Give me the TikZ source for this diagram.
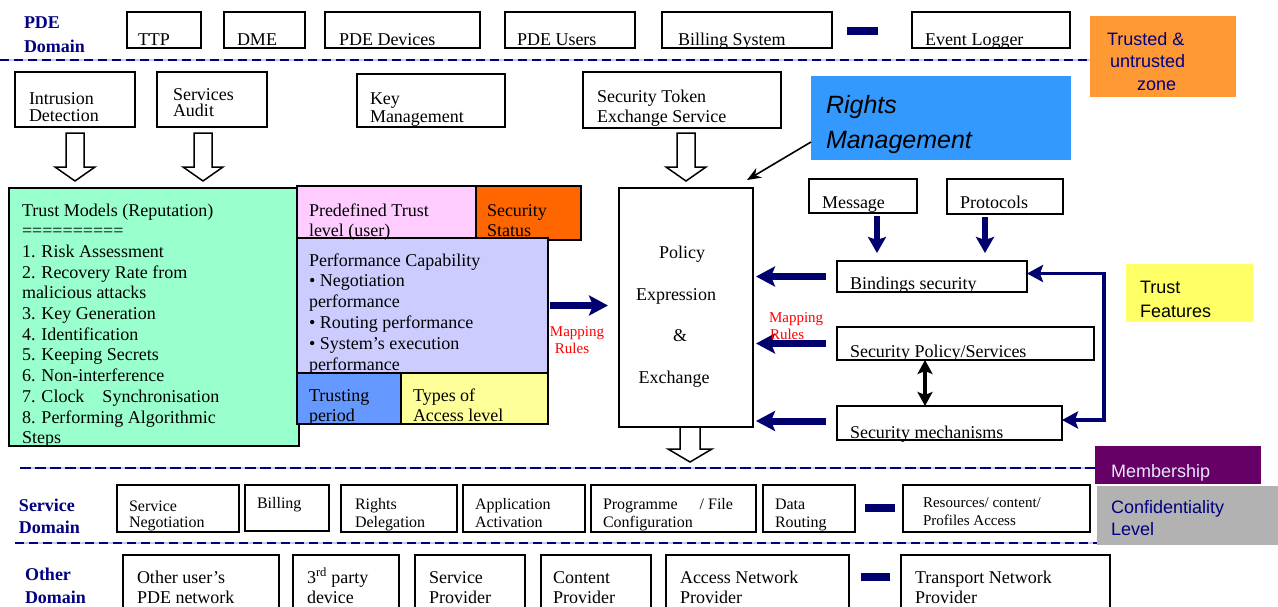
\documentclass[tikz,border=0pt]{standalone}
\usepackage{fontspec}
\setmainfont{Liberation Serif}
\newfontfamily\arialf{Liberation Sans}
\usetikzlibrary{arrows.meta,calc}
\definecolor{navy}{RGB}{0,0,128}
\definecolor{darknavy}{RGB}{0,0,110}
\definecolor{dashlav}{RGB}{200,200,235}
\definecolor{mint}{RGB}{153,255,204}
\definecolor{pinkb}{RGB}{255,204,255}
\definecolor{orangeS}{RGB}{255,102,0}
\definecolor{lavb}{RGB}{204,204,255}
\definecolor{blueT}{RGB}{102,153,255}
\definecolor{yelT}{RGB}{255,255,153}
\definecolor{zoneor}{RGB}{255,153,51}
\definecolor{rightsblue}{RGB}{51,153,255}
\definecolor{tfyel}{RGB}{255,255,102}
\definecolor{purpleM}{RGB}{102,0,102}
\definecolor{grayC}{RGB}{178,178,178}
\definecolor{membtxt}{RGB}{232,232,250}
\definecolor{mapred}{RGB}{255,0,0}
\newcommand\bx[6]{\node[boxst, fill=#6, minimum width={#4-#2}, minimum height={#5-#3}, anchor=north west] (#1) at (#2,#3) {};}
\newcommand\cbx[6]{\node[fill=#6, inner sep=0pt, outer sep=0pt, minimum width={#4-#2}, minimum height={#5-#3}, anchor=north west] (#1) at (#2,#3) {};}
\newcommand\vt[2]{\vtop{\baselineskip=#1pt\lineskiplimit=-100pt\lineskip=0pt #2}}
\newcommand\openarrow[5]{% coordinate name, shaft half, head half, shaft len, head len
  \draw[line width=1.5pt, fill=white, line join=miter]
    ([xshift=-#2pt]#1) -- ++(0,#4) -- ++(#2-#3,0) -- ++(#3,#5) -- ++(#3,-#5) -- ++(#2-#3,0) -- ++(0,-#4) -- cycle;}
\begin{document}
\begin{tikzpicture}[x=1pt,y=-1pt,
  boxst/.style={draw=black, line width=1.6pt, inner sep=0pt, outer sep=0pt},
  txt/.style={anchor=base west, inner sep=0pt, outer sep=0pt},
  t18/.style={txt, font=\fontsize{18}{20}\selectfont},
  t16/.style={txt, font=\fontsize{16}{18}\selectfont},
  t15/.style={txt, font=\fontsize{15}{17}\selectfont},
  dom/.style={txt, text=navy, font=\fontsize{18}{20}\selectfont\bfseries},
  ar18/.style={txt, font=\arialf\fontsize{18}{20}\selectfont},
  maprule/.style={txt, text=mapred, font=\fontsize{15}{17}\selectfont},
  navyarr/.style={draw=darknavy, line width=7pt, -{Stealth[length=19pt, width=20pt, inset=4pt]}},
  downarr/.style={draw=darknavy, line width=6pt, -{Stealth[length=16pt, width=18pt, inset=3pt]}},
  looparr/.style={draw=darknavy, line width=3.5pt, {Stealth[length=16pt, width=17pt, inset=3pt]}-{Stealth[length=16pt, width=17pt, inset=3pt]}},
  blackdbl/.style={draw=black, line width=3.5pt, {Stealth[length=14pt, width=15pt, inset=3pt]}-{Stealth[length=14pt, width=15pt, inset=3pt]}},
  thinarr/.style={draw=black, line width=1.6pt, -{Stealth[length=14pt, width=11pt]}},
  domline/.style={draw=navy, line width=1.6pt, dash pattern=on 9pt off 5pt},
]
\useasboundingbox (0,0) rectangle (1278,606);

% ---------- dashed domain separators ----------
\draw[dashlav, line width=1.6pt] (0,60) -- (1090,60);
\draw[domline] (0,60) -- (1090,60);
\draw[dashlav, line width=2.6pt] (20,468) -- (1095,468);
\draw[domline, line width=2.6pt, dash pattern=on 11pt off 4pt] (20,468) -- (1095,468);
\draw[dashlav, line width=1.6pt] (15,543) -- (1097,543);
\draw[domline] (15,543) -- (1097,543);

% ---------- PDE domain ----------
\node[dom] (lpde) at (24,28) {PDE};
\node[dom] (lpde2) at (24,52) {Domain};
\bx{ttp}{127}{12}{201}{48}{white}
\bx{dme}{224}{12}{305}{48}{white}
\bx{pdedev}{325}{12}{480}{48}{white}
\bx{pdeusr}{505}{12}{635}{48}{white}
\bx{bill}{662}{12}{832}{48}{white}
\bx{evlog}{912}{12}{1070}{48}{white}
\node[t18] (tttp) at (138,45) {TTP};
\node[t18] (tdme) at (237,45) {DME};
\node[t18] (tpdedev) at (339,45) {PDE Devices};
\node[t18] (tpdeusr) at (517,45) {PDE Users};
\node[t18] (tbill) at (678,45) {Billing System};
\node[t18] (tevlog) at (925,45) {Event Logger};
\fill[darknavy] (847,27) rectangle (878,35);

\cbx{zone}{1090}{16}{1236}{97}{zoneor}
\node[ar18, text=navy] (tzone1) at (1107,45) {Trusted \&};
\node[ar18, text=navy] (tzone2) at (1110,67) {untrusted};
\node[ar18, text=navy] (tzone3) at (1137,90) {zone};

% ---------- second row ----------
\bx{intr}{15}{72}{135}{127}{white}
\bx{audit}{157}{72}{267}{127}{white}
\bx{keym}{357}{74}{505}{127}{white}
\bx{token}{583}{72}{781}{128}{white}
\node[t18] (tintr) at (29,104) {\vt{17}{\hbox{Intrusion}\hbox{Detection}}};
\node[t18] (taudit) at (173,100) {\vt{16}{\hbox{Services}\hbox{Audit}}};
\node[t18] (tkeym) at (370,104) {\vt{18}{\hbox{Key}\hbox{Management}}};
\node[t18] (ttoken) at (597,102) {\vt{20}{\hbox{Security Token}\hbox{Exchange Service}}};

\cbx{rights}{811}{76}{1071}{160}{rightsblue}
\node[txt, font=\arialf\itshape\fontsize{25}{28}\selectfont] (trights) at (826,113) {\vt{35}{\hbox{Rights}\hbox{Management}}};

% ---------- middle: trust attributes ----------
\bx{trust}{9}{188}{299}{446}{mint}
\bx{pre}{297}{186}{476}{239}{pinkb}
\bx{sec}{476}{186}{581}{240}{orangeS}
\bx{perf}{297}{238}{548}{373}{lavb}
\bx{tper}{297}{373}{401}{424}{blueT}
\bx{types}{401}{373}{548}{424}{yelT}

\node[t18] (ttrust) at (22,216) {\vt{20.7}{%
  \hbox{Trust Models (Reputation)}
  \hbox{==========}
  \hbox{1. Risk Assessment}
  \hbox{2. Recovery Rate from}
  \hbox{malicious attacks}
  \hbox{3. Key Generation}
  \hbox{4. Identification}
  \hbox{5. Keeping Secrets}
  \hbox{6. Non-interference}
  \hbox{7. Clock\hspace{18pt}Synchronisation}
  \hbox{8. Performing Algorithmic}
  \hbox{Steps}}};
\node[t18] (tpre) at (309,216) {\vt{20}{\hbox{Predefined Trust}\hbox{level (user)}}};
\node[t18] (tsec) at (487,216) {\vt{20}{\hbox{Security}\hbox{Status}}};
\node[t18] (tperf) at (309,266) {\vt{20.8}{%
  \hbox{Performance Capability}
  \hbox{• Negotiation}
  \hbox{performance}
  \hbox{• Routing performance}
  \hbox{• System’s execution}
  \hbox{performance}}};
\node[t18] (ttper) at (309,401) {\vt{20}{\hbox{Trusting}\hbox{period}}};
\node[t18] (ttypes) at (413,401) {\vt{20}{\hbox{Types of}\hbox{Access level}}};

% ---------- policy ----------
\bx{policy}{619}{188}{753}{427}{white}
\node[txt, anchor=base, font=\fontsize{18}{20}\selectfont] (tpol1) at (682,258) {Policy};
\node[txt, anchor=base, font=\fontsize{18}{20}\selectfont] (tpol2) at (676,300) {Expression};
\node[txt, anchor=base, font=\fontsize{18}{20}\selectfont] (tpol3) at (680,341) {\&};
\node[txt, anchor=base, font=\fontsize{18}{20}\selectfont] (tpol4) at (674,383) {Exchange};

% ---------- right side ----------
\bx{msg}{809}{179}{917}{213}{white}
\bx{prot}{947}{179}{1063}{214}{white}
\bx{bind}{837}{261}{1027}{292}{white}
\bx{secpol}{837}{327}{1094}{360}{white}
\bx{mech}{837}{406}{1062}{440}{white}
\node[t18] (tmsg) at (822,208) {Message};
\node[t18] (tprot) at (960,208) {Protocols};
\node[t18] (tbind) at (850,289) {Bindings security};
\node[t18] (tsecpol) at (850,357) {Security Policy/Services};
\node[t18] (tmech) at (850,438) {Security mechanisms};

\cbx{tf}{1126}{264}{1253}{322}{tfyel}
\node[ar18] (ttf) at (1140,293) {\vt{24}{\hbox{Trust}\hbox{Features}}};

% ---------- open block arrows ----------
\coordinate (oa1) at ($(intr.south)+(0,6)$);
\coordinate (oa2) at ($(audit.south)+(-9,6)$);
\coordinate (oa3) at ($(token.south)+(4,5)$);
\coordinate (oa4) at ($(policy.south)+(4,0)$);
\openarrow{oa1}{9}{20}{34}{14}
\openarrow{oa2}{9}{20}{34}{14}
\openarrow{oa3}{9}{20}{34}{14}
\openarrow{oa4}{10}{22}{22}{13}

% ---------- connectors ----------
\draw[thinarr] ($(rights.west)+(0,24)$) -- ($(policy.north east)+(-6,-8)$);

\coordinate (mapS) at ($(perf.east)+(2,0)$);
\coordinate (mapE) at ($(policy.west |- perf.east)+(-11,0)$);
\draw[navyarr] (mapS) -- (mapE);
\draw[navyarr] ($(bind.west)+(-11,0)$) -- ($(policy.east |- bind.west)+(3,0)$);
\draw[navyarr] ($(secpol.west)+(-11,0)$) -- ($(policy.east |- secpol.west)+(3,0)$);
\draw[navyarr] ($(mech.west)+(-11,-2)$) -- ($(policy.east |- mech.west)+(3,-2)$);

\draw[downarr] ($(msg.south)+(14,3)$) -- ($(bind.north west)+(40,-8)$);
\draw[downarr] ($(prot.south)+(-20,3)$) -- ($(bind.north west)+(148,-8)$);

\coordinate (lpA) at ($(bind.east)+(0,-3)$);
\coordinate (lpB) at ($(mech.east)+(42,-3)$);
\coordinate (lpC) at ($(mech.east)+(0,-3)$);
\draw[looparr] (lpA) -| (lpB) -- (lpC);

\draw[blackdbl] ($(secpol.south west)+(88,0)$) -- ($(mech.north west)+(88,0)$);

\node[maprule, anchor=base] (tmap1) at (577,336) {Mapping};
\node[maprule, anchor=base] (tmap2) at (572,353) {Rules};
\node[maprule] (tmap3) at (769,322) {Mapping};
\node[maprule] (tmap4) at (770,339) {Rules};

% ---------- membership / confidentiality ----------
\cbx{memb}{1095}{446}{1261}{484}{purpleM}
\node[ar18, text=membtxt] (tmemb) at (1111,477) {Membership};
\cbx{conf}{1097}{486}{1278}{545}{grayC}
\node[ar18, text=navy] (tconf) at (1111,513) {\vt{22}{\hbox{Confidentiality}\hbox{Level}}};

% ---------- service domain ----------
\node[dom] (lsd1) at (19,511) {Service};
\node[dom] (lsd2) at (19,533) {Domain};
\bx{sneg}{117}{485}{239}{532}{white}
\bx{sbill}{245}{485}{329}{531}{white}
\bx{srd}{341}{485}{457}{532}{white}
\bx{saa}{463}{485}{585}{532}{white}
\bx{sprog}{591}{485}{756}{532}{white}
\bx{sdr}{763}{485}{855}{532}{white}
\bx{sres}{903}{485}{1090}{532}{white}
\node[t16] (tsneg) at (129,511) {\vt{16}{\hbox{Service}\hbox{Negotiation}}};
\node[t16] (tsbill) at (257,508) {Billing};
\node[t16] (tsrd) at (355,509) {\vt{18}{\hbox{Rights}\hbox{Delegation}}};
\node[t16] (tsaa) at (475,509) {\vt{18}{\hbox{Application}\hbox{Activation}}};
\node[t16] (tsprog) at (603,509) {\vt{18}{\hbox{Programme\hspace{22pt}/ File}\hbox{Configuration}}};
\node[t16] (tsdr) at (775,509) {\vt{18}{\hbox{Data}\hbox{Routing}}};
\node[t15] (tsres) at (923,507) {\vt{18}{\hbox{Resources/ content/}\hbox{Profiles Access}}};
\fill[darknavy] (865,504) rectangle (895,512);

% ---------- other domain ----------
\node[dom] (lod1) at (25,580) {Other};
\node[dom] (lod2) at (25,603) {Domain};
\bx{oup}{123}{555}{279}{614}{white}
\bx{o3}{293}{555}{399}{614}{white}
\bx{osp}{415}{555}{525}{614}{white}
\bx{ocp}{541}{555}{651}{614}{white}
\bx{oan}{666}{555}{849}{614}{white}
\bx{otn}{901}{555}{1110}{614}{white}
\node[t18] (toup) at (137,583) {\vt{20}{\hbox{Other user’s}\hbox{PDE network}}};
\node[t18] (to3) at (307,583) {\vt{20}{\hbox{3\textsuperscript{rd} party}\hbox{device}}};
\node[t18] (tosp) at (429,583) {\vt{20}{\hbox{Service}\hbox{Provider}}};
\node[t18] (tocp) at (553,583) {\vt{20}{\hbox{Content}\hbox{Provider}}};
\node[t18] (toan) at (680,583) {\vt{20}{\hbox{Access Network}\hbox{Provider}}};
\node[t18] (totn) at (915,583) {\vt{20}{\hbox{Transport Network}\hbox{Provider}}};
\fill[darknavy] (861,573) rectangle (890,581);
\end{tikzpicture}
\end{document}
